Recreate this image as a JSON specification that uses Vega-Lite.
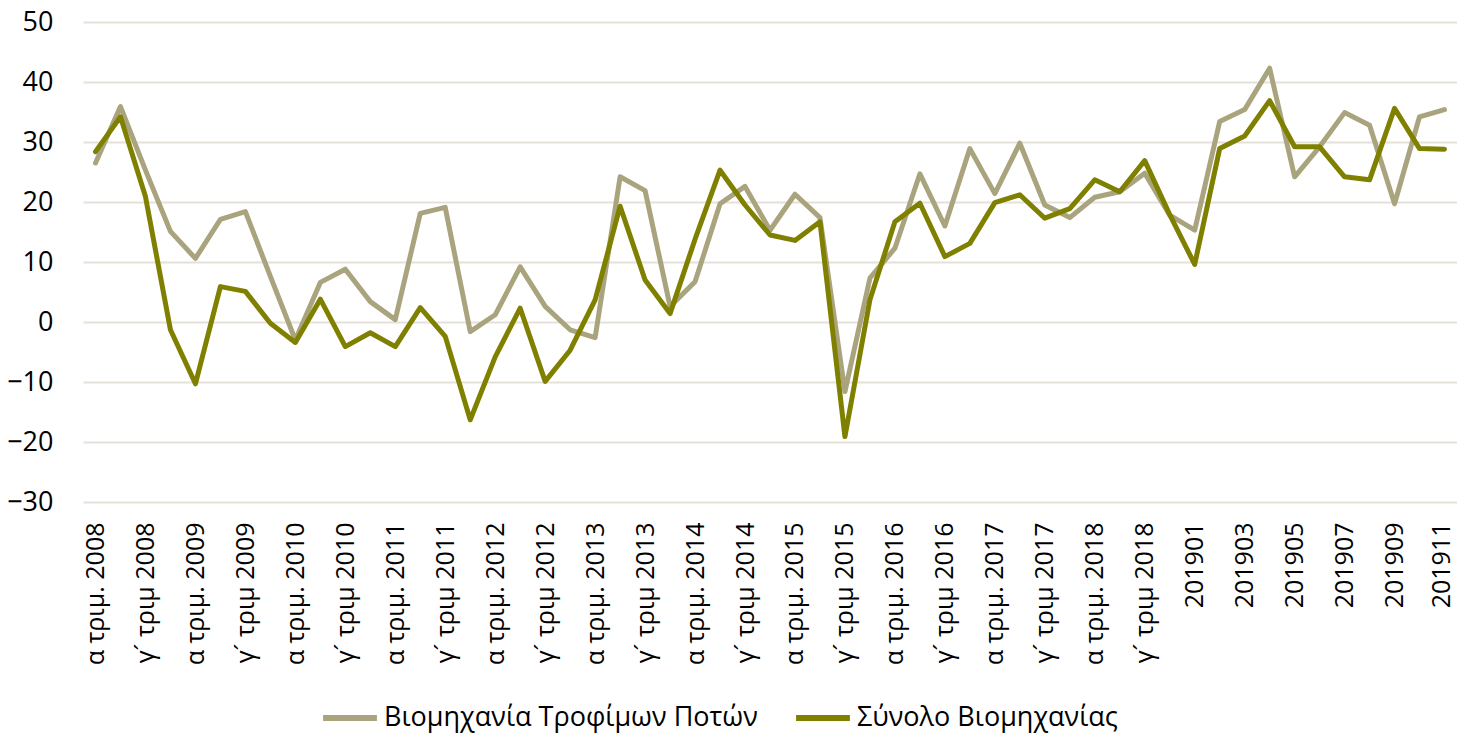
{
  "$schema": "https://vega.github.io/schema/vega-lite/v6.json",
  "width": 1374,
  "height": 480,
  "autosize": {"type": "none"},
  "padding": {"left": 83, "top": 22, "right": 0, "bottom": 232},
  "background": "white",
  "config": {
    "font": "Open Sans",
    "view": {"stroke": null}
  },
  "datasets": {
    "wide": [
      {"period": "α τριμ. 2008", "food": 26.5, "total": 28.4},
      {"period": "β´ τριμ. 2008", "food": 35.9, "total": 34.2},
      {"period": "γ´ τριμ 2008", "food": 25.3, "total": 20.9},
      {"period": "δ´ τριμ 2008", "food": 15.1, "total": -1.3},
      {"period": "α τριμ. 2009", "food": 10.6, "total": -10.3},
      {"period": "β´ τριμ. 2009", "food": 17.1, "total": 5.9},
      {"period": "γ´ τριμ 2009", "food": 18.4, "total": 5.1},
      {"period": "δ´ τριμ 2009", "food": 7.6, "total": -0.2},
      {"period": "α τριμ. 2010", "food": -3.0, "total": -3.4},
      {"period": "β´ τριμ. 2010", "food": 6.6, "total": 3.8},
      {"period": "γ´ τριμ 2010", "food": 8.8, "total": -4.1},
      {"period": "δ´ τριμ 2010", "food": 3.4, "total": -1.8},
      {"period": "α τριμ. 2011", "food": 0.4, "total": -4.1},
      {"period": "β´ τριμ. 2011", "food": 18.1, "total": 2.4},
      {"period": "γ´ τριμ 2011", "food": 19.1, "total": -2.4},
      {"period": "δ´ τριμ 2011", "food": -1.6, "total": -16.3},
      {"period": "α τριμ. 2012", "food": 1.2, "total": -5.8},
      {"period": "β´ τριμ. 2012", "food": 9.2, "total": 2.3},
      {"period": "γ´ τριμ 2012", "food": 2.6, "total": -9.9},
      {"period": "δ´ τριμ 2012", "food": -1.3, "total": -4.7},
      {"period": "α τριμ. 2013", "food": -2.6, "total": 3.7},
      {"period": "β´ τριμ. 2013", "food": 24.2, "total": 19.3},
      {"period": "γ´ τριμ 2013", "food": 21.9, "total": 7.0},
      {"period": "δ´ τριμ 2013", "food": 2.6, "total": 1.4},
      {"period": "α τριμ. 2014", "food": 6.7, "total": 13.8},
      {"period": "β´ τριμ. 2014", "food": 19.7, "total": 25.3},
      {"period": "γ´ τριμ 2014", "food": 22.6, "total": 19.5},
      {"period": "δ´ τριμ 2014", "food": 15.3, "total": 14.5},
      {"period": "α τριμ. 2015", "food": 21.3, "total": 13.6},
      {"period": "β´ τριμ. 2015", "food": 17.4, "total": 16.7},
      {"period": "γ´ τριμ 2015", "food": -11.6, "total": -19.1},
      {"period": "δ´ τριμ 2015", "food": 7.3, "total": 3.7},
      {"period": "α τριμ. 2016", "food": 12.3, "total": 16.7},
      {"period": "β´ τριμ. 2016", "food": 24.7, "total": 19.8},
      {"period": "γ´ τριμ 2016", "food": 16.0, "total": 10.9},
      {"period": "δ´ τριμ 2016", "food": 28.9, "total": 13.1},
      {"period": "α τριμ. 2017", "food": 21.4, "total": 19.9},
      {"period": "β´ τριμ. 2017", "food": 29.8, "total": 21.2},
      {"period": "γ´ τριμ 2017", "food": 19.5, "total": 17.3},
      {"period": "δ´ τριμ 2017", "food": 17.4, "total": 18.9},
      {"period": "α τριμ. 2018", "food": 20.8, "total": 23.7},
      {"period": "β´ τριμ. 2018", "food": 21.7, "total": 21.7},
      {"period": "γ´ τριμ 2018", "food": 24.8, "total": 26.9},
      {"period": "δ´ τριμ 2018", "food": 17.8, "total": 17.9},
      {"period": "201901", "food": 15.3, "total": 9.6},
      {"period": "201902", "food": 33.4, "total": 28.9},
      {"period": "201903", "food": 35.4, "total": 31.0},
      {"period": "201904", "food": 42.3, "total": 36.9},
      {"period": "201905", "food": 24.2, "total": 29.2},
      {"period": "201906", "food": 29.2, "total": 29.2},
      {"period": "201907", "food": 34.9, "total": 24.2},
      {"period": "201908", "food": 32.8, "total": 23.7},
      {"period": "201909", "food": 19.7, "total": 35.6},
      {"period": "201910", "food": 34.2, "total": 28.9},
      {"period": "201911", "food": 35.4, "total": 28.8}
    ]
  },
  "data": {"name": "wide"},
  "transform": [
    {"fold": ["food", "total"], "as": ["key", "value"]},
    {"lookup": "key", "from": {"data": {"values": [
      {"key": "food", "series": "Βιομηχανία Τροφίμων Ποτών"},
      {"key": "total", "series": "Σύνολο Βιομηχανίας"}
    ]}, "key": "key", "fields": ["series"]}}
  ],
  "mark": {"type": "line", "strokeWidth": 5, "strokeJoin": "round", "strokeCap": "round"},
  "encoding": {
    "x": {
      "field": "period",
      "type": "ordinal",
      "sort": null,
      "scale": {"type": "point", "padding": 0.5},
      "axis": {
        "title": null,
        "values": ["α τριμ. 2008", "γ´ τριμ 2008", "α τριμ. 2009", "γ´ τριμ 2009", "α τριμ. 2010", "γ´ τριμ 2010", "α τριμ. 2011", "γ´ τριμ 2011", "α τριμ. 2012", "γ´ τριμ 2012", "α τριμ. 2013", "γ´ τριμ 2013", "α τριμ. 2014", "γ´ τριμ 2014", "α τριμ. 2015", "γ´ τριμ 2015", "α τριμ. 2016", "γ´ τριμ 2016", "α τριμ. 2017", "γ´ τριμ 2017", "α τριμ. 2018", "γ´ τριμ 2018", "201901", "201903", "201905", "201907", "201909", "201911"],
        "labelAngle": -90,
        "labelAlign": "right",
        "labelBaseline": "middle",
        "labelFontSize": 25,
        "labelColor": "#000000",
        "labelPadding": 20,
        "labelOffset": {"condition": {"test": "datum.value === '201911'", "value": -3}, "value": 0},
        "labelOverlap": false,
        "ticks": false,
        "domain": false,
        "grid": false
      }
    },
    "y": {
      "field": "value",
      "type": "quantitative",
      "scale": {"domain": [-30, 50], "nice": false, "zero": false},
      "axis": {
        "title": null,
        "values": [-30, -20, -10, 0, 10, 20, 30, 40, 50],
        "labelFontSize": 27,
        "labelColor": "#000000",
        "labelPadding": 30,
        "ticks": false,
        "domain": false,
        "grid": true,
        "gridColor": "#E6E1D8",
        "gridWidth": 2
      }
    },
    "color": {
      "field": "series",
      "type": "nominal",
      "scale": {"domain": ["Βιομηχανία Τροφίμων Ποτών", "Σύνολο Βιομηχανίας"], "range": ["#A9A47E", "#808000"]},
      "legend": {
        "title": null,
        "orient": "none",
        "direction": "horizontal",
        "legendX": 237,
        "legendY": 666,
        "padding": 0,
        "symbolType": "stroke",
        "symbolSize": 2900,
        "symbolStrokeWidth": 6,
        "labelFontSize": 27,
        "labelColor": "#000000",
        "labelOffset": 4,
        "columnPadding": 26,
        "labelLimit": 600
      }
    }
  }
}
